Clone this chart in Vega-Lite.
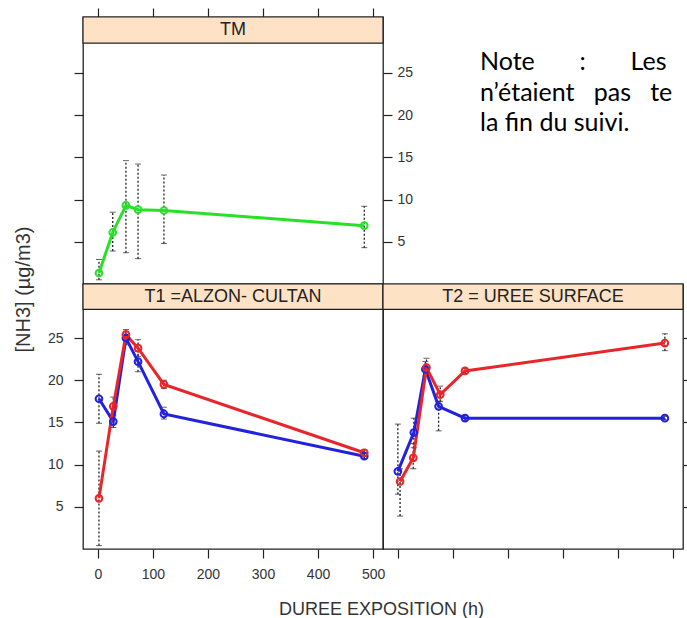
{
  "$schema": "https://vega.github.io/schema/vega-lite/v6.json",
  "padding": {"left": 12, "top": 6, "right": 0, "bottom": 0},
  "background": "white",
  "datasets": {
    "mesures": [
      {"panel": "TM", "serie": "TM", "t": 2, "y": 1.3, "lo": 0.5, "hi": 2.9},
      {"panel": "TM", "serie": "TM", "t": 27, "y": 6.1, "lo": 3.9, "hi": 8.5},
      {"panel": "TM", "serie": "TM", "t": 51, "y": 9.3, "lo": 3.7, "hi": 14.6},
      {"panel": "TM", "serie": "TM", "t": 73, "y": 8.8, "lo": 3.0, "hi": 14.2},
      {"panel": "TM", "serie": "TM", "t": 120, "y": 8.7, "lo": 4.8, "hi": 12.9},
      {"panel": "TM", "serie": "TM", "t": 484, "y": 6.9, "lo": 4.3, "hi": 9.2},
      {"panel": "T1", "serie": "A", "t": 2, "y": 17.8, "lo": 14.9, "hi": 20.7},
      {"panel": "T1", "serie": "A", "t": 28, "y": 15.1, "lo": 14.4, "hi": 16.0},
      {"panel": "T1", "serie": "A", "t": 51, "y": 25.0, "lo": 24.2, "hi": 25.8},
      {"panel": "T1", "serie": "A", "t": 73, "y": 22.2, "lo": 21.0, "hi": 23.4},
      {"panel": "T1", "serie": "A", "t": 120, "y": 16.0, "lo": 15.4, "hi": 16.8},
      {"panel": "T1", "serie": "A", "t": 484, "y": 11.0, "lo": 10.7, "hi": 11.4},
      {"panel": "T1", "serie": "B", "t": 2, "y": 6.0, "lo": 0.4, "hi": 11.6},
      {"panel": "T1", "serie": "B", "t": 28, "y": 16.9, "lo": 15.8, "hi": 18.0},
      {"panel": "T1", "serie": "B", "t": 51, "y": 25.4, "lo": 24.8, "hi": 26.0},
      {"panel": "T1", "serie": "B", "t": 73, "y": 23.8, "lo": 22.8, "hi": 24.8},
      {"panel": "T1", "serie": "B", "t": 120, "y": 19.5, "lo": 19.0, "hi": 20.0},
      {"panel": "T1", "serie": "B", "t": 484, "y": 11.4, "lo": 11.0, "hi": 11.8},
      {"panel": "T2", "serie": "A", "t": 0, "y": 9.2, "lo": 6.5, "hi": 14.8},
      {"panel": "T2", "serie": "A", "t": 29, "y": 13.8, "lo": 12.0, "hi": 15.5},
      {"panel": "T2", "serie": "A", "t": 50, "y": 21.3, "lo": 20.5, "hi": 22.2},
      {"panel": "T2", "serie": "A", "t": 74, "y": 16.9, "lo": 14.0, "hi": 17.5},
      {"panel": "T2", "serie": "A", "t": 122, "y": 15.5, "lo": 15.2, "hi": 15.8},
      {"panel": "T2", "serie": "A", "t": 485, "y": 15.5, "lo": 15.3, "hi": 15.7},
      {"panel": "T2", "serie": "B", "t": 4, "y": 8.0, "lo": 3.9, "hi": 9.5},
      {"panel": "T2", "serie": "B", "t": 28, "y": 10.8, "lo": 9.5, "hi": 12.5},
      {"panel": "T2", "serie": "B", "t": 52, "y": 21.5, "lo": 20.8, "hi": 22.6},
      {"panel": "T2", "serie": "B", "t": 77, "y": 18.3, "lo": 17.5, "hi": 19.3},
      {"panel": "T2", "serie": "B", "t": 122, "y": 21.1, "lo": 20.8, "hi": 21.4},
      {"panel": "T2", "serie": "B", "t": 485, "y": 24.4, "lo": 23.5, "hi": 25.5}
    ],
    "bandeaux": [
      {"panel": "TM", "label": "TM"},
      {"panel": "T1", "label": "T1 =ALZON- CULTAN"},
      {"panel": "T2", "label": "T2 = UREE SURFACE"}
    ],
    "note": [
      {"ligne": 1, "texte": "Note\u00a0\u00a0\u00a0\u00a0\u00a0\u00a0\u00a0:\u00a0\u00a0\u00a0\u00a0\u00a0\u00a0\u00a0Les"},
      {"ligne": 2, "texte": "n’étaient\u00a0\u00a0\u00a0pas\u00a0\u00a0\u00a0te"},
      {"ligne": 3, "texte": "la fin du suivi."}
    ]
  },
  "config": {
    "font": "Liberation Sans",
    "view": {"stroke": "#222", "strokeWidth": 1.3},
    "axis": {
      "domain": false, "grid": false, "tickColor": "#222", "tickSize": 9, "tickWidth": 1.2,
      "labelFont": "Liberation Sans", "labelFontSize": 14, "labelColor": "#333",
      "titleFont": "Liberation Sans", "titleFontSize": 18, "titleFontWeight": "normal", "titleColor": "#333"
    }
  },
  "columns": 2,
  "spacing": 0,
  "bounds": "flush",
  "concat": [
    {
      "width": 300, "height": 267,
      "resolve": {"axis": {"x": "independent", "y": "independent"}},
      "layer": [
        {
          "data": {"name": "bandeaux"},
          "transform": [{"filter": "datum.panel === 'TM'"}],
          "mark": {"type": "rect", "fill": "#fde2c6", "stroke": "#222", "strokeWidth": 1.2},
          "encoding": {
            "y": {"datum": 28.5, "type": "quantitative", "scale": {"domain": [0, 31.6], "nice": false, "zero": false}, "axis": null},
            "y2": {"datum": 31.6}
          }
        },
        {
          "data": {"name": "bandeaux"},
          "transform": [{"filter": "datum.panel === 'TM'"}],
          "mark": {"type": "text", "fontSize": 18, "color": "#222", "baseline": "middle"},
          "encoding": {
            "y": {"datum": 30.05, "type": "quantitative", "scale": {"domain": [0, 31.6], "nice": false, "zero": false}, "axis": null},
            "text": {"field": "label"}
          }
        },
        {
          "data": {"name": "mesures"},
          "transform": [{"filter": "datum.panel === 'TM'"}],
          "mark": {"type": "rule", "color": "#222", "strokeDash": [2, 2], "strokeWidth": 1.3},
          "encoding": {
            "x": {"field": "t", "type": "quantitative", "scale": {"domain": [-27, 518], "nice": false, "zero": false}, "axis": null},
            "y": {"field": "lo", "type": "quantitative", "scale": {"domain": [0, 31.6], "nice": false, "zero": false}, "axis": null},
            "y2": {"field": "hi"}
          }
        },
        {
          "data": {"name": "mesures"},
          "transform": [{"filter": "datum.panel === 'TM'"}],
          "mark": {"type": "tick", "orient": "horizontal", "size": 6, "thickness": 1, "color": "#222"},
          "encoding": {
            "x": {"field": "t", "type": "quantitative", "scale": {"domain": [-27, 518], "nice": false, "zero": false}, "axis": null},
            "y": {"field": "lo", "type": "quantitative", "scale": {"domain": [0, 31.6], "nice": false, "zero": false}, "axis": null}
          }
        },
        {
          "data": {"name": "mesures"},
          "transform": [{"filter": "datum.panel === 'TM'"}],
          "mark": {"type": "tick", "orient": "horizontal", "size": 6, "thickness": 1, "color": "#222"},
          "encoding": {
            "x": {"field": "t", "type": "quantitative", "scale": {"domain": [-27, 518], "nice": false, "zero": false}, "axis": null},
            "y": {"field": "hi", "type": "quantitative", "scale": {"domain": [0, 31.6], "nice": false, "zero": false}, "axis": null}
          }
        },
        {
          "data": {"name": "mesures"},
          "transform": [{"filter": "datum.panel === 'TM'"}],
          "mark": {"type": "line", "strokeWidth": 3},
          "encoding": {
            "x": {"field": "t", "type": "quantitative", "scale": {"domain": [-27, 518], "nice": false, "zero": false},
                  "axis": {"orient": "top", "labels": false, "values": [0, 100, 200, 300, 400, 500], "title": null}},
            "y": {"field": "y", "type": "quantitative", "scale": {"domain": [0, 31.6], "nice": false, "zero": false},
                  "axis": {"orient": "left", "labels": false, "values": [5, 10, 15, 20, 25], "title": null}},
            "color": {"field": "serie", "type": "nominal", "scale": {"domain": ["TM", "A", "B"], "range": ["#28e028", "#2222dd", "#e8262a"]}, "legend": null}
          }
        },
        {
          "data": {"name": "mesures"},
          "transform": [{"filter": "datum.panel === 'TM'"}],
          "mark": {"type": "point", "filled": false, "size": 45, "strokeWidth": 2, "opacity": 1},
          "encoding": {
            "x": {"field": "t", "type": "quantitative", "scale": {"domain": [-27, 518], "nice": false, "zero": false}, "axis": null},
            "y": {"field": "y", "type": "quantitative", "scale": {"domain": [0, 31.6], "nice": false, "zero": false},
                  "axis": {"orient": "right", "labels": true, "labelPadding": 5, "values": [5, 10, 15, 20, 25], "title": null}},
            "color": {"field": "serie", "type": "nominal", "scale": {"domain": ["TM", "A", "B"], "range": ["#28e028", "#2222dd", "#e8262a"]}, "legend": null}
          }
        }
      ]
    },
    {
      "width": 300, "height": 267,
      "view": {"stroke": null},
      "data": {"name": "note"},
      "mark": {"type": "text", "align": "left", "baseline": "alphabetic", "font": "Lato", "fontSize": 25, "color": "#000", "dx": -53},
      "encoding": {
        "y": {"field": "ligne", "type": "quantitative", "scale": {"domain": [-0.738, 8.016], "reverse": true, "nice": false, "zero": false}, "axis": null},
        "text": {"field": "texte"}
      }
    },
    {
      "width": 300, "height": 265,
      "resolve": {"axis": {"x": "independent", "y": "independent"}},
      "layer": [
        {
          "data": {"name": "bandeaux"},
          "transform": [{"filter": "datum.panel === 'T1'"}],
          "mark": {"type": "rect", "fill": "#fde2c6", "stroke": "#222", "strokeWidth": 1.2},
          "encoding": {
            "y": {"datum": 28.4, "type": "quantitative", "scale": {"domain": [0, 31.4], "nice": false, "zero": false}, "axis": null},
            "y2": {"datum": 31.4}
          }
        },
        {
          "data": {"name": "bandeaux"},
          "transform": [{"filter": "datum.panel === 'T1'"}],
          "mark": {"type": "text", "fontSize": 18, "color": "#222", "baseline": "middle"},
          "encoding": {
            "y": {"datum": 29.9, "type": "quantitative", "scale": {"domain": [0, 31.4], "nice": false, "zero": false}, "axis": null},
            "text": {"field": "label"}
          }
        },
        {
          "data": {"name": "mesures"},
          "transform": [{"filter": "datum.panel === 'T1'"}],
          "mark": {"type": "rule", "color": "#222", "strokeDash": [2, 2], "strokeWidth": 1.3},
          "encoding": {
            "x": {"field": "t", "type": "quantitative", "scale": {"domain": [-27, 518], "nice": false, "zero": false}, "axis": null},
            "y": {"field": "lo", "type": "quantitative", "scale": {"domain": [0, 31.4], "nice": false, "zero": false}, "axis": null},
            "y2": {"field": "hi"}
          }
        },
        {
          "data": {"name": "mesures"},
          "transform": [{"filter": "datum.panel === 'T1'"}],
          "mark": {"type": "tick", "orient": "horizontal", "size": 6, "thickness": 1, "color": "#222"},
          "encoding": {
            "x": {"field": "t", "type": "quantitative", "scale": {"domain": [-27, 518], "nice": false, "zero": false}, "axis": null},
            "y": {"field": "lo", "type": "quantitative", "scale": {"domain": [0, 31.4], "nice": false, "zero": false}, "axis": null}
          }
        },
        {
          "data": {"name": "mesures"},
          "transform": [{"filter": "datum.panel === 'T1'"}],
          "mark": {"type": "tick", "orient": "horizontal", "size": 6, "thickness": 1, "color": "#222"},
          "encoding": {
            "x": {"field": "t", "type": "quantitative", "scale": {"domain": [-27, 518], "nice": false, "zero": false}, "axis": null},
            "y": {"field": "hi", "type": "quantitative", "scale": {"domain": [0, 31.4], "nice": false, "zero": false}, "axis": null}
          }
        },
        {
          "data": {"name": "mesures"},
          "transform": [{"filter": "datum.panel === 'T1'"}],
          "mark": {"type": "line", "strokeWidth": 3},
          "encoding": {
            "x": {"field": "t", "type": "quantitative", "scale": {"domain": [-27, 518], "nice": false, "zero": false},
                  "axis": {"orient": "bottom", "labels": true, "labelPadding": 9, "values": [0, 100, 200, 300, 400, 500],
                           "title": "DUREE EXPOSITION (h)", "titleX": 298, "titleY": 65, "titleBaseline": "alphabetic"}},
            "y": {"field": "y", "type": "quantitative", "scale": {"domain": [0, 31.4], "nice": false, "zero": false},
                  "axis": {"orient": "left", "labels": true, "labelPadding": 11, "values": [5, 10, 15, 20, 25],
                           "title": "[NH3] (µg/m3)", "titleFontSize": 20, "titleX": -54, "titleY": 5, "titleBaseline": "alphabetic"}},
            "color": {"field": "serie", "type": "nominal", "scale": {"domain": ["TM", "A", "B"], "range": ["#28e028", "#2222dd", "#e8262a"]}, "legend": null}
          }
        },
        {
          "data": {"name": "mesures"},
          "transform": [{"filter": "datum.panel === 'T1'"}],
          "mark": {"type": "point", "filled": false, "size": 45, "strokeWidth": 2, "opacity": 1},
          "encoding": {
            "x": {"field": "t", "type": "quantitative", "scale": {"domain": [-27, 518], "nice": false, "zero": false}, "axis": null},
            "y": {"field": "y", "type": "quantitative", "scale": {"domain": [0, 31.4], "nice": false, "zero": false}, "axis": null},
            "color": {"field": "serie", "type": "nominal", "scale": {"domain": ["TM", "A", "B"], "range": ["#28e028", "#2222dd", "#e8262a"]}, "legend": null}
          }
        }
      ]
    },
    {
      "width": 300, "height": 265,
      "resolve": {"axis": {"x": "independent", "y": "independent"}},
      "layer": [
        {
          "data": {"name": "bandeaux"},
          "transform": [{"filter": "datum.panel === 'T2'"}],
          "mark": {"type": "rect", "fill": "#fde2c6", "stroke": "#222", "strokeWidth": 1.2},
          "encoding": {
            "y": {"datum": 28.4, "type": "quantitative", "scale": {"domain": [0, 31.4], "nice": false, "zero": false}, "axis": null},
            "y2": {"datum": 31.4}
          }
        },
        {
          "data": {"name": "bandeaux"},
          "transform": [{"filter": "datum.panel === 'T2'"}],
          "mark": {"type": "text", "fontSize": 18, "color": "#222", "baseline": "middle"},
          "encoding": {
            "y": {"datum": 29.9, "type": "quantitative", "scale": {"domain": [0, 31.4], "nice": false, "zero": false}, "axis": null},
            "text": {"field": "label"}
          }
        },
        {
          "data": {"name": "mesures"},
          "transform": [{"filter": "datum.panel === 'T2'"}],
          "mark": {"type": "rule", "color": "#222", "strokeDash": [2, 2], "strokeWidth": 1.3},
          "encoding": {
            "x": {"field": "t", "type": "quantitative", "scale": {"domain": [-27, 518], "nice": false, "zero": false}, "axis": null},
            "y": {"field": "lo", "type": "quantitative", "scale": {"domain": [0, 31.4], "nice": false, "zero": false}, "axis": null},
            "y2": {"field": "hi"}
          }
        },
        {
          "data": {"name": "mesures"},
          "transform": [{"filter": "datum.panel === 'T2'"}],
          "mark": {"type": "tick", "orient": "horizontal", "size": 6, "thickness": 1, "color": "#222"},
          "encoding": {
            "x": {"field": "t", "type": "quantitative", "scale": {"domain": [-27, 518], "nice": false, "zero": false}, "axis": null},
            "y": {"field": "lo", "type": "quantitative", "scale": {"domain": [0, 31.4], "nice": false, "zero": false}, "axis": null}
          }
        },
        {
          "data": {"name": "mesures"},
          "transform": [{"filter": "datum.panel === 'T2'"}],
          "mark": {"type": "tick", "orient": "horizontal", "size": 6, "thickness": 1, "color": "#222"},
          "encoding": {
            "x": {"field": "t", "type": "quantitative", "scale": {"domain": [-27, 518], "nice": false, "zero": false}, "axis": null},
            "y": {"field": "hi", "type": "quantitative", "scale": {"domain": [0, 31.4], "nice": false, "zero": false}, "axis": null}
          }
        },
        {
          "data": {"name": "mesures"},
          "transform": [{"filter": "datum.panel === 'T2'"}],
          "mark": {"type": "line", "strokeWidth": 3},
          "encoding": {
            "x": {"field": "t", "type": "quantitative", "scale": {"domain": [-27, 518], "nice": false, "zero": false},
                  "axis": {"orient": "bottom", "labels": false, "values": [0, 100, 200, 300, 400, 500], "title": null}},
            "y": {"field": "y", "type": "quantitative", "scale": {"domain": [0, 31.4], "nice": false, "zero": false},
                  "axis": {"orient": "right", "labels": false, "values": [5, 10, 15, 20, 25], "title": null}},
            "color": {"field": "serie", "type": "nominal", "scale": {"domain": ["TM", "A", "B"], "range": ["#28e028", "#2222dd", "#e8262a"]}, "legend": null}
          }
        },
        {
          "data": {"name": "mesures"},
          "transform": [{"filter": "datum.panel === 'T2'"}],
          "mark": {"type": "point", "filled": false, "size": 45, "strokeWidth": 2, "opacity": 1},
          "encoding": {
            "x": {"field": "t", "type": "quantitative", "scale": {"domain": [-27, 518], "nice": false, "zero": false}, "axis": null},
            "y": {"field": "y", "type": "quantitative", "scale": {"domain": [0, 31.4], "nice": false, "zero": false}, "axis": null},
            "color": {"field": "serie", "type": "nominal", "scale": {"domain": ["TM", "A", "B"], "range": ["#28e028", "#2222dd", "#e8262a"]}, "legend": null}
          }
        }
      ]
    }
  ]
}
